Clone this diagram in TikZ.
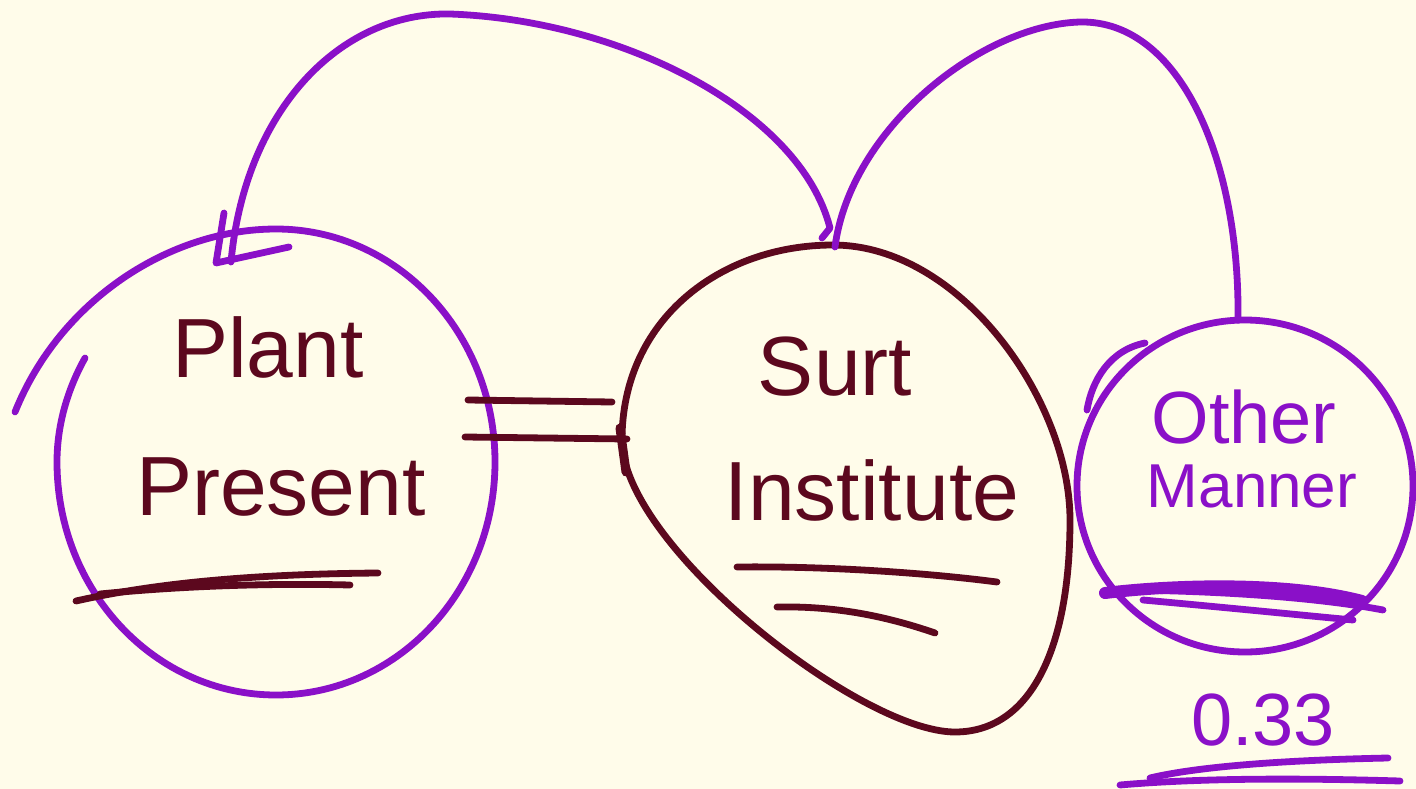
\documentclass[tikz,border=0pt]{standalone}
\usepackage{fontspec}
\setmainfont{Liberation Sans}
\definecolor{bg}{RGB}{255,252,234}
\definecolor{pur}{RGB}{138,16,200}
\definecolor{mar}{RGB}{92,8,30}
\begin{document}
\begin{tikzpicture}[x=1pt,y=-1pt,
  pstroke/.style={draw=pur,line width=6.8pt,line cap=round,line join=round},
  mstroke/.style={draw=mar,line width=6.8pt,line cap=round,line join=round},
  mtext/.style={text=mar,anchor=base,inner sep=0pt},
  ptext/.style={text=pur,anchor=base,inner sep=0pt},
  bigfont/.style={font=\fontsize{84}{90}\selectfont},
  midfont/.style={font=\fontsize{74}{80}\selectfont},
  smallfont/.style={font=\fontsize{62}{66}\selectfont}]
\fill[bg] (0,0) rectangle (1416,789);
\useasboundingbox (0,0) rectangle (1416,789);

% ---- named points on the shapes
\coordinate (plantArrow) at (231,262);
\coordinate (surtTopL) at (822,238);
\coordinate (surtTopR) at (835,247);
\coordinate (otherTop) at (1238,320);
\coordinate (plantE1) at (468,400);
\coordinate (plantE2) at (465,437);
\coordinate (surtW1) at (612,402);
\coordinate (surtW2) at (627,439);

% ---- Plant Present circle
\draw[pstroke] (85,358) .. controls (66,392) and (57,428) .. (57,462)
  .. controls (57,591) and (155,695) .. (276,695)
  .. controls (397,695) and (495,591) .. (495,462)
  .. controls (495,333) and (397,229) .. (276,229)
  .. controls (170,229) and (60,300) .. (15,412);
\node[mtext,bigfont] (plant) at (268,377) {Plant};
\node[mtext,bigfont] (present) at (281,515) {Present};
\draw[mstroke] (76,601) .. controls (160,582) and (260,574) .. (378,573);
\draw[mstroke] (100,594) .. controls (180,586) and (270,583) .. (350,585);

% ---- Surt Institute shape
\draw[mstroke] (833,245) .. controls (960,245) and (1070,400) .. (1070,520)
  .. controls (1070,650) and (1030,732) .. (955,732)
  .. controls (860,732) and (622,545) .. (622,440)
  .. controls (622,320) and (720,245) .. cycle;
\draw[draw=mar,line width=9pt,line cap=round] (620,428) -- (626,472);
\node[mtext,bigfont] (surt) at (835,395) {Surt};
\node[mtext,bigfont] (institute) at (872,520) {Institute};
\draw[mstroke] (737,567) .. controls (820,566) and (920,572) .. (997,582);
\draw[mstroke] (777,607) .. controls (830,606) and (880,614) .. (935,633);

% ---- Other Manner circle
\draw[pstroke] (1245,486) ellipse [x radius=168, y radius=166];
\draw[pstroke] (1087,410) .. controls (1092,380) and (1110,350) .. (1145,343);
\node[ptext,midfont] (other) at (1244,443) {Other};
\node[ptext,smallfont] (manner) at (1252,507) {Manner};
\draw[draw=pur,line width=12pt,line cap=round] (1105,593) .. controls (1180,584) and (1290,582) .. (1362,601);
\draw[pstroke] (1143,600) .. controls (1210,606) and (1290,614) .. (1353,620);
\draw[pstroke] (1110,590) .. controls (1200,590) and (1310,596) .. (1383,610);

% ---- value
\node[ptext,midfont] (val) at (1263,745) {0.33};
\draw[pstroke] (1120,785) .. controls (1200,778) and (1300,778) .. (1400,781);
\draw[pstroke] (1150,778) .. controls (1200,766) and (1290,760) .. (1388,758);

% ---- connectors
\draw[pstroke] (surtTopL) -- (830,228)
  .. controls (800,110) and (620,20) .. (450,14)
  .. controls (340,12) and (245,110) .. (plantArrow);
\draw[pstroke] (224,213) -- (216,263) -- (289,247);
\draw[pstroke] (surtTopR) .. controls (850,130) and (980,25) .. (1080,22)
  .. controls (1180,20) and (1240,160) .. (otherTop);
\draw[mstroke] (plantE1) -- (surtW1);
\draw[mstroke] (plantE2) -- (surtW2);
\end{tikzpicture}
\end{document}
